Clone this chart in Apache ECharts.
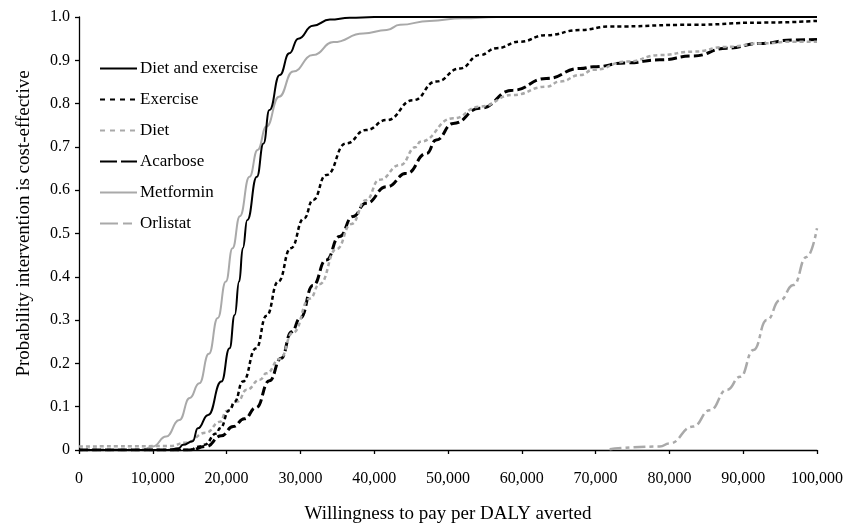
<!DOCTYPE html>
<html lang="en">
<head>
    <meta charset="UTF-8">
    <title>Cost-effectiveness acceptability</title>
    <script src="https://cdn.jsdelivr.net/npm/echarts@6/dist/echarts.min.js"></script>
    <style>
        html, body { margin: 0; padding: 0; background: #fff; }
        #main { width: 856px; height: 524px; }
    </style>
</head>
<body>
    <div id="main"></div>
    <script type="text/javascript">
        // willingness to pay (x) / probability cost-effective (y)
        var dietExercise = [[0,0],[12000,0],[13500,0.004],[14100,0.012],[15400,0.02],[16100,0.05],[17500,0.081],
            [19300,0.158],[20400,0.235],[21100,0.312],[21700,0.389],[22200,0.466],[22800,0.531],[24100,0.631],
            [25000,0.708],[25800,0.785],[27200,0.866],[28500,0.916],[29700,0.95],[31700,0.98],[34000,0.994],
            [36700,0.998],[40000,1],[100000,1]];
        var exercise = [[0,0],[15000,0],[16300,0.008],[17000,0.012],[18600,0.038],[19100,0.05],[20400,0.092],
            [21100,0.112],[22200,0.158],[24000,0.235],[25400,0.31],[27000,0.389],[28700,0.466],[30500,0.535],
            [31700,0.577],[33500,0.635],[36200,0.708],[38900,0.739],[41700,0.762],[45300,0.808],[48400,0.851],
            [51600,0.881],[54300,0.912],[56600,0.928],[59700,0.943],[63300,0.958],[67900,0.97],[71900,0.978],
            [83200,0.982],[92300,0.987],[100000,0.991]];
        var diet = [[0,0.008],[12300,0.009],[14500,0.017],[17200,0.04],[19100,0.065],[20000,0.09],[21500,0.112],
            [22700,0.139],[24500,0.162],[25400,0.177],[27200,0.21],[29000,0.271],[31300,0.35],[32600,0.383],
            [34900,0.464],[36900,0.522],[38900,0.577],[40700,0.624],[43500,0.658],[45700,0.7],[46200,0.712],
            [50700,0.766],[54300,0.793],[58800,0.82],[63300,0.839],[65200,0.851],[67900,0.866],[69700,0.878],
            [74200,0.897],[78700,0.912],[83200,0.92],[87800,0.931],[92300,0.939],[96800,0.943],[100000,0.943]];
        var acarbose = [[0,0],[15000,0],[17200,0.008],[19300,0.033],[20900,0.054],[22400,0.072],[24000,0.098],
            [25800,0.16],[27400,0.212],[28800,0.273],[30000,0.305],[31700,0.38],[33500,0.439],[35300,0.493],
            [37100,0.539],[38900,0.57],[41700,0.608],[44400,0.639],[47100,0.685],[48400,0.716],[50700,0.754],
            [54300,0.789],[58800,0.831],[63300,0.858],[67900,0.881],[69700,0.885],[74200,0.894],[78700,0.901],
            [83200,0.91],[87800,0.928],[92300,0.939],[96800,0.947],[100000,0.948]];
        var metformin = [[0,0],[8500,0],[10000,0.008],[11800,0.031],[13600,0.069],[15000,0.12],[16300,0.154],
            [17600,0.222],[18800,0.305],[19900,0.389],[20800,0.466],[21800,0.54],[23100,0.631],[24200,0.693],
            [25400,0.747],[27100,0.816],[29000,0.874],[31700,0.912],[34500,0.942],[38500,0.962],[41700,0.97],
            [43500,0.982],[47500,0.991],[52000,0.997],[56600,1],[100000,1]];
        var orlistat = [[71900,0.002],[78700,0.008],[80000,0.015],[83200,0.054],[85500,0.092],[87800,0.139],
            [89600,0.169],[91400,0.231],[93200,0.3],[95000,0.346],[96800,0.381],[98600,0.446],[100000,0.512]];

        var names = ['Diet and exercise', 'Exercise', 'Diet', 'Acarbose', 'Metformin', 'Orlistat'];
        var curves = [dietExercise, exercise, diet, acarbose, metformin, orlistat];
        var colors = ['#000', '#000', '#a9a9a9', '#000', '#a9a9a9', '#a9a9a9'];
        var widths = [2, 2.5, 2.5, 3, 2, 2.5];
        var dashes = ['solid', [4, 3], [4, 3], [9, 4], 'solid', [12, 4, 4, 4]];
        // the key draws the dash patterns larger than the curves do
        var legendDashes = ['solid', [5, 5], [5, 5], [17, 4], 'solid', [18, 5, 9, 5]];

        var serif = 'Liberation Serif';
        var myChart = echarts.init(document.getElementById('main'));

        var series = curves.map(function (d, i) {
            return {
                name: names[i],
                type: 'line',
                data: d,
                symbol: 'none',
                smooth: 0.5,
                smoothMonotone: 'x',
                animation: false,
                lineStyle: { color: colors[i], width: widths[i], type: dashes[i] },
                itemStyle: { color: colors[i] },
                z: 10 - i
            };
        });

        myChart.setOption({
            backgroundColor: '#fff',
            animation: false,
            // keep the plot box fixed; v6 would otherwise shrink it to fit the axis title
            grid: { left: 79, right: 39, top: 17, bottom: 74, containLabel: false, outerBoundsMode: 'none' },
            legend: {
                show: true,
                orient: 'vertical',
                left: 99,
                top: 60,
                padding: 0,
                itemWidth: 37,
                itemHeight: 14,
                itemGap: 14,
                itemStyle: { opacity: 0 },
                textStyle: { fontFamily: serif, fontSize: 17, color: '#000', padding: [0, 0, 0, -2] },
                data: names.map(function (n, i) {
                    return { name: n, lineStyle: { type: legendDashes[i] } };
                })
            },
            xAxis: {
                type: 'value',
                min: 0,
                max: 100000,
                interval: 10000,
                name: 'Willingness to pay per DALY averted',
                nameLocation: 'middle',
                nameGap: 55,
                nameTextStyle: { fontFamily: serif, fontSize: 19, color: '#000' },
                axisLine: { lineStyle: { color: '#000', width: 1.3 } },
                axisTick: { length: 4, lineStyle: { color: '#000', width: 1.3 } },
                axisLabel: {
                    fontFamily: serif, fontSize: 16, color: '#000', margin: 21,
                    formatter: function (v) { return v.toLocaleString('en-US'); }
                },
                splitLine: { show: false }
            },
            yAxis: {
                type: 'value',
                min: 0,
                max: 1,
                interval: 0.1,
                name: 'Probability intervention is cost-effective',
                nameLocation: 'middle',
                nameGap: 45,
                nameTextStyle: { fontFamily: serif, fontSize: 19, color: '#000', padding: [0, 0, 0, 20] },
                axisLine: { show: true, lineStyle: { color: '#000', width: 1.3 } },
                axisTick: { show: true, length: 4, lineStyle: { color: '#000', width: 1.3 } },
                axisLabel: {
                    fontFamily: serif, fontSize: 16, color: '#000', margin: 9,
                    formatter: function (v) { return v === 0 ? '0' : v.toFixed(1); }
                },
                splitLine: { show: false }
            },
            series: series
        });
    </script>
</body>
</html>
